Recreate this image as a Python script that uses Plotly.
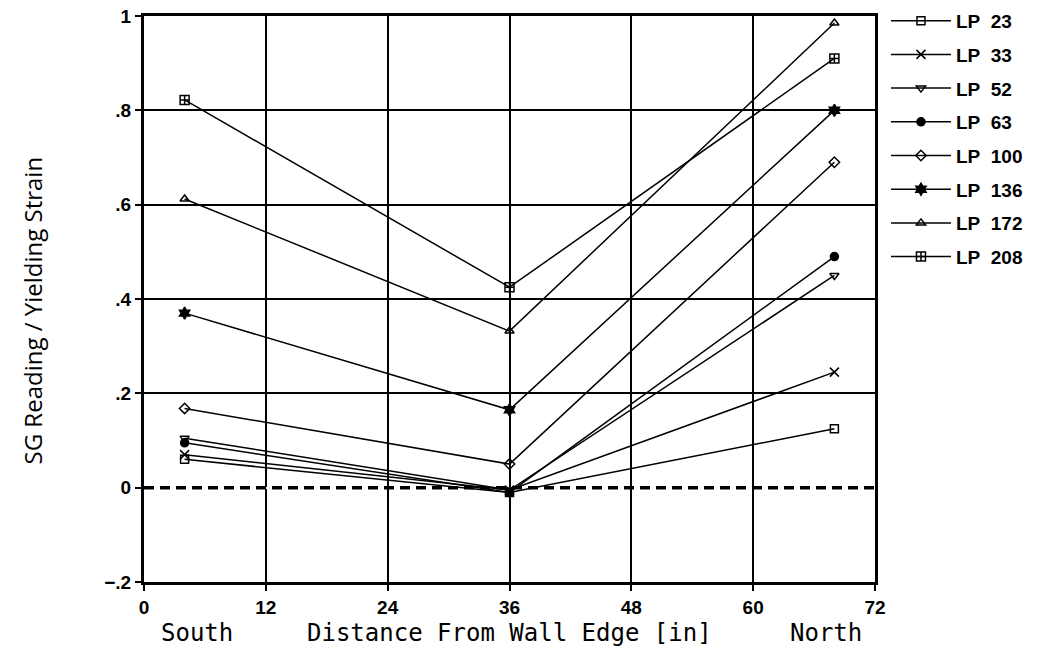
import plotly.graph_objects as go

# Data
positions = [4, 36, 68]  # Distance from wall edge [in]
series_names = ["LP\u00a0\u00a023", "LP\u00a0\u00a033", "LP\u00a0\u00a052", "LP\u00a0\u00a063",
                "LP\u00a0\u00a0100", "LP\u00a0\u00a0136", "LP\u00a0\u00a0172", "LP\u00a0\u00a0208"]
lp23 = [0.06, -0.01, 0.125]
lp33 = [0.07, -0.005, 0.245]
lp52 = [0.105, -0.005, 0.45]
lp63 = [0.095, -0.01, 0.49]
lp100 = [0.168, 0.05, 0.69]
lp136 = [0.37, 0.165, 0.80]
lp172 = [0.612, 0.332, 0.985]
lp208 = [0.822, 0.425, 0.91]
series_values = [lp23, lp33, lp52, lp63, lp100, lp136, lp172, lp208]

x_ticks = [0, 12, 24, 36, 48, 60, 72]
y_ticks = [-0.2, 0, 0.2, 0.4, 0.6, 0.8, 1]
y_ticktext = ["\u2212.2", "0", ".2", ".4", ".6", ".8", "1"]

symbols = ["square-open", "x-thin-open", "triangle-down-open", "circle",
           "diamond-open", "hexagram", "triangle-up-open", "square-cross-open"]
sizes = [8, 9, 8, 8, 8, 9, 8, 9]

fig = go.Figure()
for i, (name, vals) in enumerate(zip(series_names, series_values)):
    fig.add_trace(go.Scatter(
        x=positions, y=vals, name=name, mode="lines+markers",
        legendgroup=name,
        line=dict(color="black", width=1.5),
        marker=dict(symbol=symbols[i], size=sizes[i], color="black",
                    line=dict(color="black", width=1.5)),
    ))

# dashed zero line
fig.add_shape(type="line", xref="x", yref="y", x0=0, x1=72, y0=0, y1=0,
              line=dict(color="black", width=3.5, dash="10px,6px"), layer="above")

tickfont = dict(family="Liberation Sans", size=19, color="black", weight="bold")
fig.update_xaxes(range=[0, 72], tickvals=x_ticks, showgrid=True, gridcolor="black",
                 gridwidth=1.5, showline=True, linecolor="black", linewidth=3,
                 mirror=True, ticks="outside", ticklen=6, tickwidth=1.5,
                 tickcolor="black", tickfont=tickfont, zeroline=False,
                 ticklabeloverflow="allow")
fig.update_yaxes(range=[-0.2, 1], tickvals=y_ticks, ticktext=y_ticktext,
                 showgrid=True, gridcolor="black", gridwidth=1.5, showline=True,
                 linecolor="black", linewidth=3, mirror=True, ticks="outside",
                 ticklen=6, tickwidth=1.5, tickcolor="black", tickfont=tickfont,
                 zeroline=True, zerolinecolor="white", zerolinewidth=2,
                 ticklabeloverflow="allow")

# y-axis title
fig.add_annotation(x=-0.153, y=0.48, xref="paper", yref="paper",
                   text="SG Reading / Yielding Strain", textangle=-90,
                   showarrow=False, xanchor="center", yanchor="middle",
                   font=dict(family="Open Sans", size=24, color="black"))

labfont = dict(family="DejaVu Sans Mono", size=24, color="black")
for xv, txt in [(5.2, "South"), (36.0, "Distance From Wall Edge [in]"), (67.2, "North")]:
    fig.add_annotation(x=xv, y=-0.09, xref="x", yref="paper", text=txt,
                       showarrow=False, font=labfont, yanchor="middle", xanchor="center")

fig.update_layout(
    width=1040, height=652,
    margin=dict(l=144, r=165, t=16, b=70, autoexpand=False),
    plot_bgcolor="white", paper_bgcolor="white",
    legend=dict(x=1.015, y=1.025, xanchor="left", yanchor="top",
                font=dict(family="Liberation Sans", size=19, color="black", weight="bold"),
                tracegroupgap=6, traceorder="grouped", bgcolor="rgba(0,0,0,0)",
                itemwidth=60),
    showlegend=True,
)

fig.write_html("out.html",
               config={"displayModeBar": False},
               post_script="document.body.style.margin='0';document.body.style.overflow='hidden';")
